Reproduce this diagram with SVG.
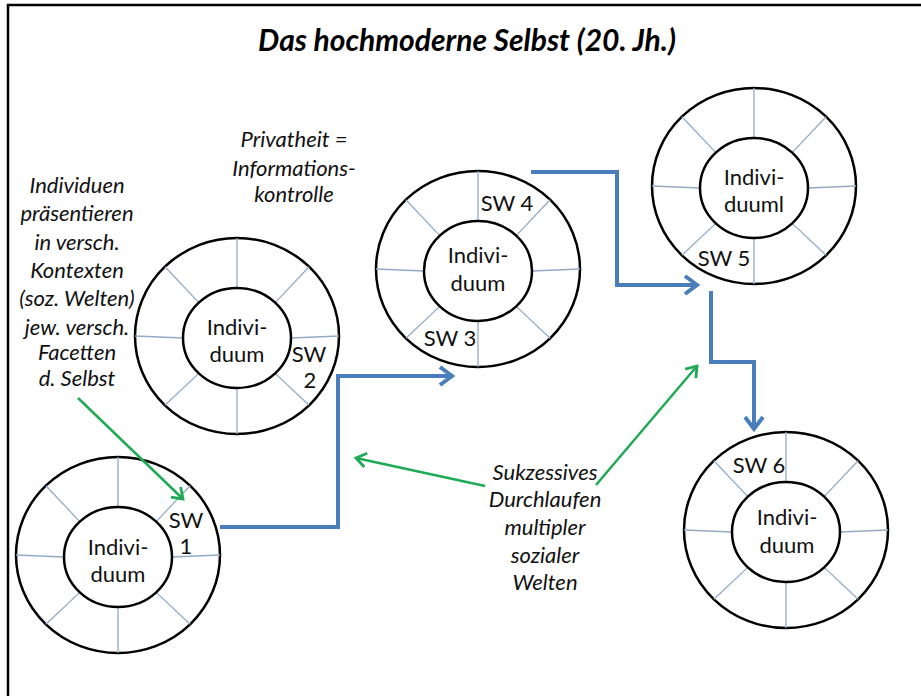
<svg xmlns="http://www.w3.org/2000/svg" xmlns:xlink="http://www.w3.org/1999/xlink" width="921" height="696" viewBox="0 0 921 696">
<style>
.t{font-family:Lato,"Liberation Sans",sans-serif;font-size:22px;fill:#111;text-anchor:middle}
.i{font-style:italic}
.title{font-family:Lato,"Liberation Sans",sans-serif;font-size:30px;font-weight:bold;font-style:italic;fill:#000;text-anchor:middle}
.ring{fill:#fff;stroke:#000;stroke-width:2.5}
.spoke{stroke:#93ABC6;stroke-width:1.3}
.blue{fill:none;stroke:#4A7EBB;stroke-width:4;marker-end:url(#ab)}
.green{fill:none;stroke:#1FAA55;stroke-width:2.5;marker-end:url(#ag)}
</style>
<defs>
<marker id="ab" markerUnits="userSpaceOnUse" viewBox="-16 -12 20 24" markerWidth="20" markerHeight="24" refX="0" refY="0" orient="auto" overflow="visible">
<path d="M-12,-9 L0,0 L-12,9" fill="none" stroke="#4A7EBB" stroke-width="4" stroke-linejoin="miter"/>
</marker>
<marker id="ag" markerUnits="userSpaceOnUse" viewBox="-14 -10 18 20" markerWidth="18" markerHeight="20" refX="0" refY="0" orient="auto" overflow="visible">
<path d="M-10,-7 L0,0 L-10,7" fill="none" stroke="#1FAA55" stroke-width="2.8"/>
</marker>
<g id="ring">
<ellipse class="ring" cx="0" cy="0" rx="102" ry="98"/>
<g class="spoke">
<line x1="54" y1="2" x2="102" y2="0"/>
<line x1="38.2" y1="37.4" x2="72.1" y2="69.3"/>
<line x1="0" y1="52" x2="0" y2="98"/>
<line x1="-38.2" y1="37.4" x2="-72.1" y2="69.3"/>
<line x1="-54" y1="2" x2="-102" y2="0"/>
<line x1="-38.2" y1="-33.4" x2="-72.1" y2="-69.3"/>
<line x1="0" y1="-48" x2="0" y2="-98"/>
<line x1="38.2" y1="-33.4" x2="72.1" y2="-69.3"/>
</g>
<ellipse class="ring" cx="0" cy="2" rx="54" ry="50"/>
</g>
</defs>
<rect x="0" y="0" width="921" height="696" fill="#fff"/>
<rect x="8" y="5" width="960" height="740" fill="none" stroke="#000" stroke-width="2.5"/>
<text class="title" x="467" y="51">Das hochmoderne Selbst (20. Jh.)</text>

<g id="note-left" class="t i">
<text x="77" y="193">Individuen</text>
<text x="77" y="221">präsentieren</text>
<text x="77" y="250">in versch.</text>
<text x="77" y="278">Kontexten</text>
<text x="77" y="306">(soz. Welten)</text>
<text x="77" y="335">jew. versch.</text>
<text x="77" y="360">Facetten</text>
<text x="77" y="386">d. Selbst</text>
</g>
<g id="note-privat" class="t i">
<text x="294" y="147">Privatheit =</text>
<text x="294" y="176">Informations-</text>
<text x="294" y="202">kontrolle</text>
</g>
<g id="note-sukz" class="t i">
<text x="545" y="480">Sukzessives</text>
<text x="545" y="507">Durchlaufen</text>
<text x="545" y="535">multipler</text>
<text x="545" y="563">sozialer</text>
<text x="545" y="590">Welten</text>
</g>

<g id="node1">
<use xlink:href="#ring" href="#ring" x="118" y="555"/>
<text class="t" x="118" y="555">Indivi-</text>
<text class="t" x="118" y="582">duum</text>
<text class="t" x="186" y="528">SW</text>
<text class="t" x="186" y="554">1</text>
</g>
<g id="node2">
<use xlink:href="#ring" href="#ring" x="237" y="336"/>
<text class="t" x="237" y="335">Indivi-</text>
<text class="t" x="237" y="362">duum</text>
<text class="t" x="309" y="362">SW</text>
<text class="t" x="310" y="388">2</text>
</g>
<g id="node3">
<use xlink:href="#ring" href="#ring" x="478" y="269"/>
<text class="t" x="478" y="263">Indivi-</text>
<text class="t" x="478" y="291">duum</text>
<text class="t" x="507" y="211">SW 4</text>
<text class="t" x="450" y="346">SW 3</text>
</g>
<g id="node4">
<use xlink:href="#ring" href="#ring" x="754" y="186"/>
<text class="t" x="754" y="185">Indivi-</text>
<text class="t" x="754" y="212">duuml</text>
<text class="t" x="724" y="266">SW 5</text>
</g>
<g id="node5">
<use xlink:href="#ring" href="#ring" x="786" y="530"/>
<text class="t" x="787" y="525">Indivi-</text>
<text class="t" x="787" y="553">duum</text>
<text class="t" x="759" y="473">SW 6</text>
</g>

<g id="connectors">
<path class="blue" d="M220,527 H338 V376 H452"/>
<path class="blue" d="M531,172 H617 V285 H697"/>
<path class="blue" d="M711,291 V362 H754 V429"/>
<path class="green" d="M78,398 L183,499"/>
<path class="green" d="M485,486 L356,458"/>
<path class="green" d="M596,485 L697,366"/>
</g>
</svg>
